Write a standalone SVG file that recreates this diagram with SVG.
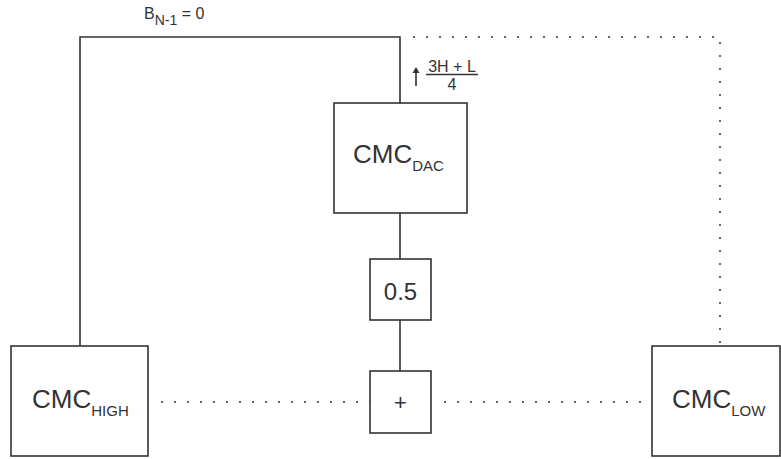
<svg xmlns="http://www.w3.org/2000/svg" width="781" height="459" viewBox="0 0 781 459">
<style>
.box{fill:#fff;stroke:#333;stroke-width:1.6}
.ln{fill:none;stroke:#333;stroke-width:1.6}
.dot{fill:none;stroke:#666;stroke-width:2;stroke-dasharray:2 11}
text{font-family:"Liberation Sans",Arial,sans-serif;fill:#333}
.big{font-size:26px}
.sub{font-size:15px}
</style>
<rect width="781" height="459" fill="#fff"/>
<g id="connectors">
<polyline class="ln" points="80,346 80,37 400,37 400,103"/>
<line class="ln" x1="400" y1="213" x2="400" y2="259"/>
<line class="ln" x1="400" y1="320" x2="400" y2="371"/>
<polyline class="dot" points="413,37 720,37 720,346"/>
<line class="dot" x1="161" y1="402" x2="370" y2="402"/>
<line class="dot" x1="444" y1="402" x2="652" y2="402"/>
<line class="ln" x1="416" y1="86" x2="416" y2="71" stroke-width="1.4"/>
<path d="M412.5,73 L416,67 L419.5,73 Z" fill="#333"/>
<line class="ln" x1="426" y1="74.5" x2="478" y2="74.5" stroke-width="1.1"/>
<text x="452" y="72" font-size="16" text-anchor="middle">3H + L</text>
<text x="452" y="90" font-size="16" text-anchor="middle">4</text>
<text x="144" y="19" font-size="16">B<tspan font-size="14" dy="6">N-1</tspan><tspan dy="-6"> = 0</tspan></text>
</g>
<g id="cmc-dac">
<rect class="box" x="334" y="103" width="133" height="110"/>
<text x="353" y="163" class="big">CMC<tspan class="sub" dy="8">DAC</tspan></text>
</g>
<g id="half">
<rect class="box" x="370" y="259" width="61" height="61"/>
<text x="400.5" y="300" font-size="24" text-anchor="middle">0.5</text>
</g>
<g id="sum">
<rect class="box" x="370" y="371" width="61" height="62"/>
<text x="400.5" y="410" font-size="22" text-anchor="middle">+</text>
</g>
<g id="cmc-high">
<rect class="box" x="11" y="346" width="137" height="110"/>
<text x="32" y="408" class="big">CMC<tspan class="sub" dy="8">HIGH</tspan></text>
</g>
<g id="cmc-low">
<rect class="box" x="652" y="346" width="128" height="110"/>
<text x="672" y="408" class="big">CMC<tspan class="sub" dy="8">LOW</tspan></text>
</g>
</svg>
